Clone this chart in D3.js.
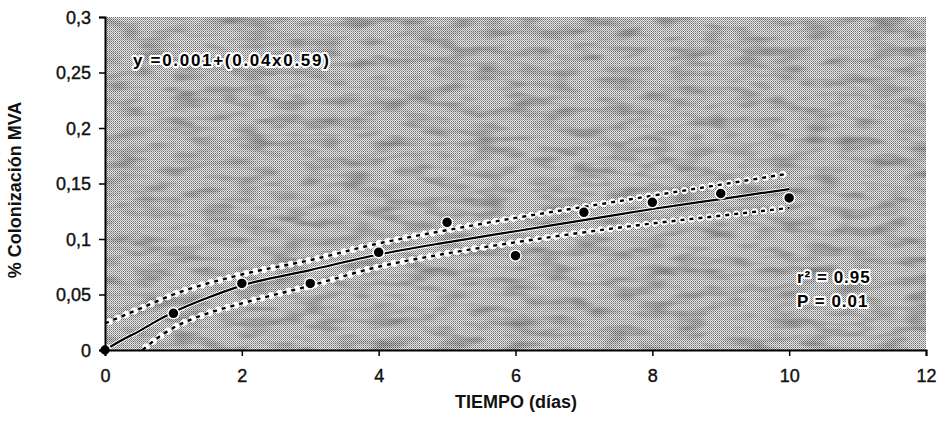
<!DOCTYPE html>
<html>
<head>
<meta charset="utf-8">
<script src="https://cdn.jsdelivr.net/npm/d3@7/dist/d3.min.js"></script>
<style>
  html, body { margin: 0; padding: 0; background: #fff; }
  svg { display: block; font-family: "Liberation Sans", Arial, sans-serif; }
</style>
</head>
<body>
<svg id="chart" width="943" height="431"></svg>
<script>
// Observed colonisation by sampling day
const days = [0, 1, 2, 3, 4, 5, 6, 7, 8, 9, 10];
const colonization = [0, 0.033, 0.060, 0.060, 0.088, 0.115, 0.085, 0.124, 0.133, 0.141, 0.137];

// Fitted power curve, sampled along x
const fitX = [0, 0.25, 0.5, 0.75, 1, 1.5, 2, 3, 4, 5, 6, 7, 8, 9, 10];
const fitY = [0, 0.009, 0.017, 0.026, 0.034, 0.047, 0.058, 0.072, 0.086, 0.097, 0.107, 0.117, 0.127, 0.136, 0.145];

// Upper and lower confidence limits
const upperX = [0, 0.5, 1, 2, 3, 4, 5, 6, 7, 8, 9, 10];
const upperY = [0.024, 0.037, 0.050, 0.068, 0.081, 0.096, 0.108, 0.119, 0.129, 0.139, 0.149, 0.159];
const lowerX = [0.55, 0.75, 1, 1.5, 2, 3, 4, 5, 6, 7, 8, 9, 10];
const lowerY = [0, 0.010, 0.020, 0.033, 0.042, 0.058, 0.075, 0.087, 0.097, 0.106, 0.114, 0.121, 0.128];

// Axis ticks and labels
const xTicks = [0, 2, 4, 6, 8, 10, 12];
const yTicks = [0, 0.05, 0.1, 0.15, 0.2, 0.25, 0.3];
const yTickLabels = ["0", "0,05", "0,1", "0,15", "0,2", "0,25", "0,3"];
const xTitle = "TIEMPO (días)";
const yTitle = "% Colonización MVA";
const equationText = "y =0.001+(0.04x0.59)";
const statsLines = ["r² = 0.95", "P = 0.01"];

const svg = d3.select("#chart");
const W = 943, H = 431;
const margin = { top: 17, right: 17, bottom: 81, left: 105 };
const iw = W - margin.left - margin.right;
const ih = H - margin.top - margin.bottom;

const x = d3.scaleLinear().domain([0, 12]).range([0, iw]);
const y = d3.scaleLinear().domain([0, 0.3]).range([ih, 0]);

const defs = svg.append("defs");
// fine dither grain
const pat = defs.append("pattern").attr("id", "grain")
  .attr("width", 2).attr("height", 2).attr("patternUnits", "userSpaceOnUse");
pat.append("rect").attr("width", 2).attr("height", 2).attr("fill", "#ebebeb");
pat.append("rect").attr("x", 0).attr("y", 0).attr("width", 1).attr("height", 1).attr("fill", "#6e6e6e");
pat.append("rect").attr("x", 1).attr("y", 1).attr("width", 1).attr("height", 1).attr("fill", "#9c9c9c");

// mottled shading over the grain
const f = defs.append("filter").attr("id", "mottle")
  .attr("x", 0).attr("y", 0).attr("width", 1).attr("height", 1);
f.append("feTurbulence").attr("type", "fractalNoise")
  .attr("baseFrequency", "0.03 0.1").attr("numOctaves", 2).attr("seed", 7).attr("result", "n");
f.append("feColorMatrix").attr("type", "matrix")
  .attr("values", "0 0 0 0 0  0 0 0 0 0  0 0 0 0 0  0 0 0 -2.2 1.25");

const g = svg.append("g").attr("transform", `translate(${margin.left},${margin.top})`);

g.append("rect").attr("width", iw).attr("height", ih).attr("fill", "url(#grain)");
g.append("rect").attr("width", iw).attr("height", ih).attr("fill", "#000")
  .attr("filter", "url(#mottle)").attr("opacity", 0.28);

// confidence limits: white dotted halo with black dashes
const lineGen = d3.line().x(d => x(d[0])).y(d => y(d[1])).curve(d3.curveMonotoneX);
const bands = [d3.zip(upperX, upperY), d3.zip(lowerX, lowerY)];
bands.forEach(b => {
  g.append("path").attr("d", lineGen(b)).attr("fill", "none")
    .attr("stroke", "#fff").attr("stroke-width", 7).attr("stroke-linecap", "round")
    .attr("stroke-dasharray", "0.1,9").attr("stroke-dashoffset", -4.5);
  g.append("path").attr("d", lineGen(b)).attr("fill", "none")
    .attr("stroke", "#fff").attr("stroke-width", 3.5)
    .attr("stroke-dasharray", "6,3");
  g.append("path").attr("d", lineGen(b)).attr("fill", "none")
    .attr("stroke", "#000").attr("stroke-width", 2.4)
    .attr("stroke-dasharray", "4,5");
});

// fitted curve
g.append("path").attr("d", lineGen(d3.zip(fitX, fitY))).attr("fill", "none")
  .attr("stroke", "#fff").attr("stroke-width", 4);
g.append("path").attr("d", lineGen(d3.zip(fitX, fitY))).attr("fill", "none")
  .attr("stroke", "#000").attr("stroke-width", 2.2);

// observations
g.selectAll("circle.obs").data(d3.zip(days, colonization)).join("circle")
  .attr("class", "obs")
  .attr("cx", d => x(d[0])).attr("cy", d => y(d[1]))
  .attr("r", 5.5).attr("fill", "#000").attr("stroke", "#fff").attr("stroke-width", 1.5);

// axes
const xAxis = g.append("g").attr("transform", `translate(0,${ih})`)
  .call(d3.axisBottom(x).tickValues(xTicks).tickSize(6).tickPadding(13).tickFormat(d3.format("d")));
const yAxis = g.append("g")
  .call(d3.axisLeft(y).tickValues(yTicks).tickSize(6).tickPadding(8)
    .tickFormat((d, i) => yTickLabels[i]));
[xAxis, yAxis].forEach(a => {
  a.select(".domain").attr("stroke", "#000").attr("stroke-width", 2);
  a.selectAll(".tick line").attr("stroke", "#000").attr("stroke-width", 1.5);
  a.selectAll(".tick text").attr("fill", "#111")
    .attr("stroke", "#111").attr("stroke-width", 0.4)
    .style("font-size", "18px").style("font-family", "'Liberation Sans', Arial, sans-serif");
});
yAxis.selectAll(".tick text").attr("dy", "0.36em");

// axis titles
svg.append("text").attr("x", 516).attr("y", 408).attr("text-anchor", "middle")
  .style("font-size", "18px").style("font-weight", "bold").attr("fill", "#111")
  .text(xTitle);
svg.append("text").attr("transform", "translate(21,190) rotate(-90)")
  .attr("text-anchor", "middle")
  .style("font-size", "18px").style("font-weight", "bold").attr("fill", "#111")
  .text(yTitle);

// annotations with white halo
function halo(sel) {
  sel.attr("fill", "#000").attr("stroke", "#fff").attr("stroke-width", 4)
    .attr("stroke-linejoin", "round").style("paint-order", "stroke")
    .style("font-weight", "bold");
}
svg.append("text").attr("x", 133).attr("y", 66)
  .style("font-size", "17px").style("letter-spacing", "1.7px")
  .call(halo).text(equationText);
statsLines.forEach((t, i) => {
  svg.append("text").attr("x", 797).attr("y", 283 + i * 24)
    .style("font-size", "17px").style("letter-spacing", "1px")
    .call(halo).text(t);
});
</script>
</body>
</html>
